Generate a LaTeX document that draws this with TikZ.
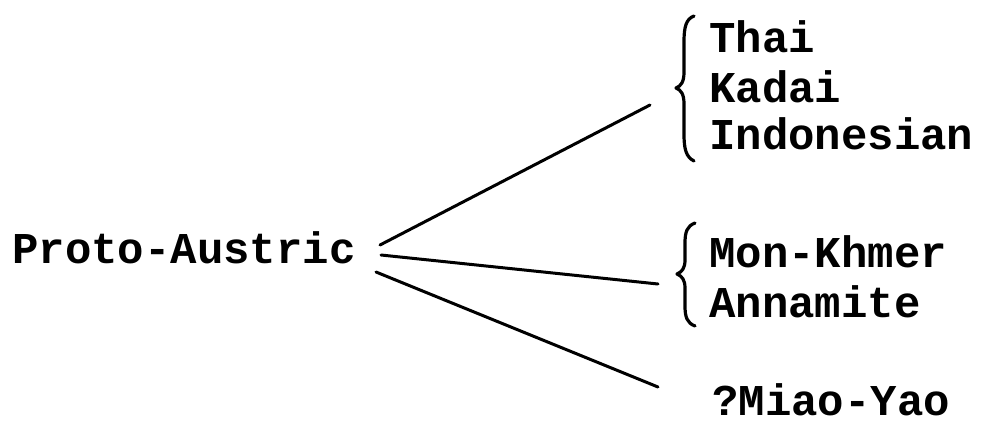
\documentclass[tikz,border=0pt]{standalone}
\usepackage{fontspec}
\setmainfont{Liberation Mono}
\tikzset{
  lang/.style={anchor=base west, inner sep=0pt, font=\fontsize{44}{44}\selectfont\bfseries},
  branch/.style={line width=3pt, line cap=round},
  grp/.style={line width=3.2pt, line cap=round, line join=round}
}
\begin{document}
\begin{tikzpicture}[x=1pt,y=-1pt]
\useasboundingbox (0,0) rectangle (985,426);
\node[lang] (proto) at (12,263) {Proto-Austric};
\node[lang] (thai)  at (709,52)  {Thai};
\node[lang] (kadai) at (709,102) {Kadai};
\node[lang] (indo)  at (709,149) {Indonesian};
\node[lang] (mon)   at (709,267) {Mon-Khmer};
\node[lang] (ann)   at (709,317) {Annamite};
\node[lang] (miao)  at (712,415) {?Miao-Yao};
\coordinate (s1) at (380,245);
\coordinate (e1) at (650,105);
\coordinate (s2) at (381,255);
\coordinate (e2) at (658,284);
\coordinate (s3) at (376,272);
\coordinate (e3) at (658,387);
\draw[branch] (s1) -- (e1);
\draw[branch] (s2) -- (e2);
\draw[branch] (s3) -- (e3);
% upper brace
\draw[grp] (694,16) .. controls (686,19) and (684,27) .. (684,42) -- (684,72)
  .. controls (684,82) and (681,86) .. (676,88)
  .. controls (681,90) and (684,94) .. (684,104) -- (684,134)
  .. controls (684,149) and (686,157) .. (694,161);
% lower brace
\draw[grp] (695,223) .. controls (687,226) and (685,232) .. (685,243) -- (685,260)
  .. controls (685,268) and (682,272) .. (677,274)
  .. controls (682,276) and (685,280) .. (685,288) -- (685,306)
  .. controls (685,317) and (687,323) .. (695,326);
\end{tikzpicture}
\end{document}
